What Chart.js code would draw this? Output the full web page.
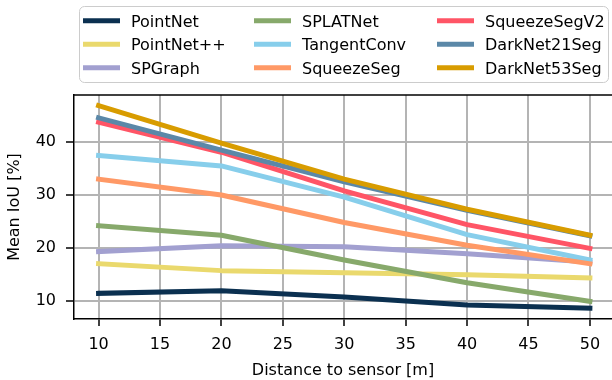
<!DOCTYPE html>
<html><head><meta charset="utf-8">
<script src="https://cdn.jsdelivr.net/npm/chart.js@4"></script>
<style>html,body{margin:0;padding:0;background:#fff}</style>
</head><body>
<canvas id="c" width="612" height="380"></canvas>
<script>
// ---- data ----
const distances = [10, 20, 30, 40, 50];
const xTicks = [10, 15, 20, 25, 30, 35, 40, 45, 50];
const yTicks = [10, 20, 30, 40];

const pointNet     = [11.4, 11.9, 10.7, 9.2, 8.6];
const pointNetPP   = [17.0, 15.7, 15.3, 14.9, 14.3];
const spGraph      = [19.3, 20.4, 20.2, 18.9, 17.3];
const splatNet     = [24.2, 22.4, 17.7, 13.4, 9.9];
const tangentConv  = [37.5, 35.5, 29.6, 22.5, 17.7];
const squeezeSeg   = [33.0, 30.0, 24.8, 20.5, 17.0];
const squeezeSegV2 = [43.8, 38.1, 30.8, 24.4, 19.9];
const darkNet21Seg = [44.6, 38.5, 32.5, 27.1, 22.3];
const darkNet53Seg = [46.9, 39.8, 33.0, 27.3, 22.4];

const seriesNames = ['PointNet', 'PointNet++', 'SPGraph', 'SPLATNet', 'TangentConv',
                     'SqueezeSeg', 'SqueezeSegV2', 'DarkNet21Seg', 'DarkNet53Seg'];
const seriesValues = [pointNet, pointNetPP, spGraph, splatNet, tangentConv,
                      squeezeSeg, squeezeSegV2, darkNet21Seg, darkNet53Seg];

// ---- styles ----
const seriesColors = ['#0b3050', '#ead96d', '#a2a0d0', '#87a96b', '#87ceeb',
                      '#ff9966', '#ff5566', '#5b88a8', '#d89c00'];
const FONT = 'DejaVu Sans';
Chart.defaults.font.family = FONT;
Chart.defaults.color = '#000';

const datasets = seriesNames.map((name, i) => ({
  label: name,
  data: distances.map((d, j) => ({ x: d, y: seriesValues[i][j] })),
  borderColor: seriesColors[i],
  backgroundColor: seriesColors[i],
  borderWidth: 5,
  pointRadius: 0,
  tension: 0,
  borderCapStyle: 'square',
  borderJoinStyle: 'round',
  order: seriesNames.length - i
}));

const frameAndLegend = {
  id: 'frameAndLegend',
  afterDraw(chart) {
    const ctx = chart.ctx;
    const a = chart.chartArea;
    ctx.save();
    // top spine
    ctx.strokeStyle = '#000';
    ctx.lineWidth = 1.5;
    ctx.beginPath();
    ctx.moveTo(a.left - 0.75, a.top);
    ctx.lineTo(a.right, a.top);
    ctx.stroke();
    // legend box
    const bx = 79.5, by = 6.5, bw = 529, bh = 76, r = 5;
    ctx.fillStyle = 'rgba(255,255,255,0.85)';
    ctx.strokeStyle = '#cccccc';
    ctx.lineWidth = 1;
    ctx.beginPath();
    ctx.moveTo(bx + r, by);
    ctx.arcTo(bx + bw, by, bx + bw, by + bh, r);
    ctx.arcTo(bx + bw, by + bh, bx, by + bh, r);
    ctx.arcTo(bx, by + bh, bx, by, r);
    ctx.arcTo(bx, by, bx + bw, by, r);
    ctx.closePath();
    ctx.fill();
    ctx.stroke();
    const colX = [83, 254, 437];
    const rowY = [20.7, 44.3, 67.7];
    ctx.font = '16px "' + FONT + '"';
    ctx.textBaseline = 'alphabetic';
    ctx.textAlign = 'left';
    chart.data.datasets.forEach((ds, i) => {
      const col = Math.floor(i / 3), row = i % 3;
      const x = colX[col], y = rowY[row];
      ctx.strokeStyle = ds.borderColor;
      ctx.lineWidth = 5;
      ctx.lineCap = 'butt';
      ctx.beginPath();
      ctx.moveTo(x, y);
      ctx.lineTo(x + 37, y);
      ctx.stroke();
      ctx.fillStyle = '#000';
      ctx.fillText(ds.label, x + 48, y + 5.8);
    });
    ctx.restore();
  }
};

new Chart(document.getElementById('c'), {
  type: 'line',
  data: { datasets },
  options: {
    responsive: false,
    animation: false,
    devicePixelRatio: 1,
    layout: { padding: { top: 95, left: 0, right: 0, bottom: 0 } },
    plugins: { legend: { display: false }, tooltip: { enabled: false } },
    scales: {
      x: {
        type: 'linear',
        min: 8,
        max: 51.8,
        afterBuildTicks: s => { s.ticks = xTicks.map(v => ({ value: v })); },
        afterFit: s => { s.height = 61; },
        grid: { color: '#b4b4b4', lineWidth: 2, tickColor: '#000', tickLength: 7, tickWidth: 1.5 },
        border: { color: '#000', width: 1.5 },
        ticks: { font: { size: 16 }, color: '#000', padding: 9, maxRotation: 0, autoSkip: false },
        title: { display: true, text: 'Distance to sensor [m]', font: { size: 16 }, color: '#000', padding: 0 }
      },
      y: {
        type: 'linear',
        min: 6.55,
        max: 48.92,
        afterBuildTicks: s => { s.ticks = yTicks.map(v => ({ value: v })); },
        afterFit: s => { s.width = 74; },
        grid: { color: '#b4b4b4', lineWidth: 2, tickColor: '#000', tickLength: 8, tickWidth: 1.5 },
        border: { color: '#000', width: 1.5 },
        ticks: { font: { size: 16 }, color: '#000', padding: 10 },
        title: { display: true, text: 'Mean IoU [%]', font: { size: 16 }, color: '#000', padding: { top: 5, bottom: 5 } }
      }
    }
  },
  plugins: [frameAndLegend]
});
</script>
</body></html>
